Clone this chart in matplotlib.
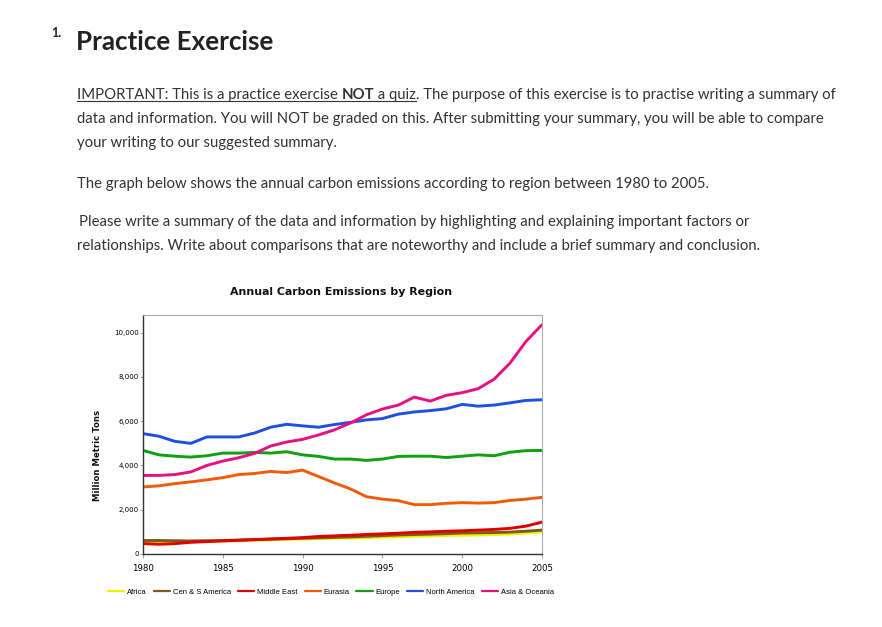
import matplotlib
matplotlib.use('Agg')
import matplotlib.pyplot as plt
import numpy as np
from matplotlib.lines import Line2D

# data (million metric tons)
years = np.arange(1980, 2006)
africa = [540, 550, 560, 570, 580, 590, 600, 620, 640, 660, 680, 700, 710, 720, 740,
          760, 780, 800, 820, 840, 850, 860, 880, 900, 950, 1000]
cen_s_america = [610, 610, 600, 590, 600, 610, 630, 650, 670, 690, 710, 730, 750, 770, 800,
                 830, 860, 880, 900, 920, 950, 960, 970, 990, 1030, 1080]
middle_east = [470, 440, 470, 530, 560, 590, 620, 650, 680, 710, 740, 790, 820, 850, 880,
               910, 940, 980, 1000, 1030, 1050, 1080, 1110, 1160, 1260, 1440]
eurasia = [3030, 3080, 3180, 3260, 3350, 3450, 3590, 3640, 3730, 3680, 3790, 3500, 3210, 2940, 2590,
           2480, 2410, 2230, 2230, 2290, 2320, 2300, 2320, 2420, 2480, 2560]
europe = [4680, 4480, 4420, 4380, 4440, 4560, 4560, 4590, 4560, 4620, 4480, 4410, 4290, 4290, 4230,
          4290, 4410, 4420, 4420, 4360, 4420, 4480, 4440, 4600, 4670, 4680]
north_america = [5440, 5320, 5090, 5000, 5290, 5290, 5290, 5470, 5730, 5860, 5790, 5730, 5850, 5950, 6060,
                 6120, 6320, 6420, 6480, 6560, 6760, 6680, 6730, 6830, 6940, 6970]
asia_oceania = [3550, 3550, 3590, 3710, 4000, 4200, 4350, 4550, 4880, 5060, 5180, 5380, 5610, 5920, 6290,
                6550, 6730, 7090, 6910, 7170, 7290, 7470, 7900, 8630, 9610, 10360]

series = [("Africa", africa, "#f2f200"),
          ("Cen & S America", cen_s_america, "#7a5a1e"),
          ("Middle East", middle_east, "#e00000"),
          ("Eurasia", eurasia, "#f25a0a"),
          ("Europe", europe, "#10a010"),
          ("North America", north_america, "#1f4fe0"),
          ("Asia & Oceania", asia_oceania, "#e6117f")]

ytick_vals = [0, 2000, 4000, 6000, 8000, 10000]
xtick_vals = [1980, 1985, 1990, 1995, 2000, 2005]

W, H = 882, 627
fig = plt.figure(figsize=(W / 100, H / 100), dpi=100)
renderer = fig.canvas.get_renderer()
BODY = "Lato"
TXT = "#333333"


def fx(x):
    return x / W


def fy(y):
    return 1 - y / H


def put_runs(x, y, runs, size):
    # runs: (text, bold, underline) drawn one after another on a baseline
    for text, bold, under in runs:
        t = fig.text(fx(x), fy(y), text, fontsize=size, family=BODY, color=TXT,
                     fontweight="bold" if bold else "normal", va="baseline", ha="left")
        w = t.get_window_extent(renderer).width
        if under:
            fig.add_artist(Line2D([fx(x), fx(x + w)], [fy(y + 2), fy(y + 2)],
                                  transform=fig.transFigure, color=TXT, lw=0.8))
        x += w


# header
fig.text(fx(51), fy(37), "1.", fontsize=9, family=BODY, fontweight="bold", color="#222222", va="baseline")
fig.text(fx(76), fy(50), "Practice Exercise", fontsize=18.7, family=BODY, fontweight="bold",
         color="#222222", va="baseline")

bs = 10.75
put_runs(77, 99, [("IMPORTANT: This is a practice exercise ", False, True), ("NOT", True, True),
                  (" a quiz", False, True),
                  (". The purpose of this exercise is to practise writing a summary of", False, False)], bs)
put_runs(77, 123, [("data and information. You will NOT be graded on this. After submitting your summary, "
                    "you will be able to compare", False, False)], bs)
put_runs(77, 147, [("your writing to our suggested summary.", False, False)], bs)
put_runs(77, 188, [("The graph below shows the annual carbon emissions according to region between 1980 to 2005.",
                    False, False)], bs)
put_runs(79, 226, [("Please write a summary of the data and information by highlighting and explaining "
                    "important factors or", False, False)], bs)
put_runs(77, 250, [("relationships. Write about comparisons that are noteworthy and include a brief summary "
                    "and conclusion.", False, False)], bs)

# chart
ax = fig.add_axes([fx(143), fy(554), (542 - 143) / W, (554 - 315) / H])
for name, vals, col in series:
    ax.plot(years, vals, color=col, lw=2.1, label=name, solid_capstyle="round")

ax.set_xlim(1980, 2005)
ax.set_ylim(0, 10800)
ax.set_xticks(xtick_vals)
ax.set_xticklabels([str(v) for v in xtick_vals], fontsize=6.2)
ax.set_yticks(ytick_vals)
ax.set_yticklabels([f"{v:,}" for v in ytick_vals], fontsize=5)
ax.tick_params(axis="x", length=3, color="#aaaaaa", pad=4)
ax.tick_params(axis="y", length=2, color="#aaaaaa", pad=1)
for s in ["top", "right"]:
    ax.spines[s].set_color("#aaaaaa")
for s in ["left", "bottom"]:
    ax.spines[s].set_color("#333333")
    ax.spines[s].set_linewidth(1.0)

fig.text(fx(341), fy(292), "Annual Carbon Emissions by Region", fontsize=7.9, fontweight="bold",
         ha="center", va="center", color="#111111")
fig.text(fx(97), fy(455), "Million Metric Tons", fontsize=6.1, fontweight="bold", rotation=90,
         ha="center", va="center", color="#111111")

leg = fig.legend(*ax.get_legend_handles_labels(), loc="center", bbox_to_anchor=(fx(331), fy(592)),
                 ncol=7, frameon=False, handlelength=2.1, handletextpad=0.4, columnspacing=0.9,
                 prop={"family": "Liberation Sans", "size": 5.5})
for h in leg.get_lines():
    h.set_linewidth(1.6)

fig.savefig("out.png", dpi=100, facecolor="white")
